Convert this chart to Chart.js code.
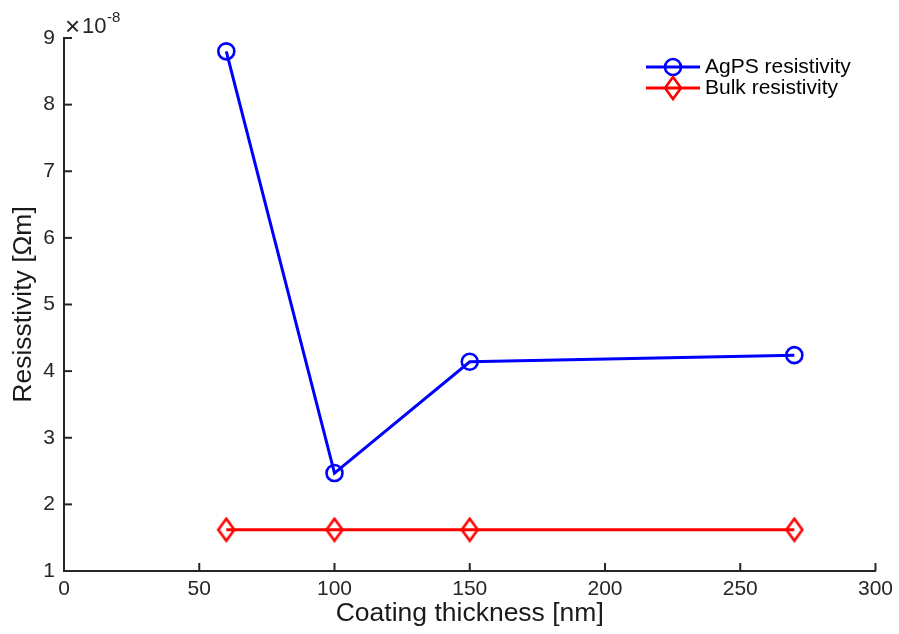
<!DOCTYPE html>
<html>
<head>
<meta charset="utf-8">
<script src="https://cdn.jsdelivr.net/npm/chart.js@4"></script>
<style>
  html, body { margin: 0; padding: 0; background: #fff; }
  #wrap { width: 899px; height: 634px; }
</style>
</head>
<body>
<div id="wrap"><canvas id="chart" width="899" height="634"></canvas></div>
<script>
// values (resistivity in units of 1e-8 Ohm m)
const thickness = [60, 100, 150, 270];
const agpsResistivity = [8.8, 2.47, 4.14, 4.24];
const bulkResistivity = [1.62, 1.62, 1.62, 1.62];
const xTicks = [0, 50, 100, 150, 200, 250, 300];
const yTicks = [1, 2, 3, 4, 5, 6, 7, 8, 9];

const axisColor = '#262626';
const fontFamily = '"Liberation Sans", Helvetica, Arial, sans-serif';

// tall MATLAB-like diamond marker, drawn once on a small canvas
function makeDiamond(color) {
    const c = document.createElement('canvas');
    c.width = 20;
    c.height = 26;
    const g = c.getContext('2d');
    g.strokeStyle = color;
    g.lineWidth = 2.6;
    g.beginPath();
    g.moveTo(10, 2);
    g.lineTo(18, 13);
    g.lineTo(10, 24);
    g.lineTo(2, 13);
    g.closePath();
    g.stroke();
    return c;
}
const diamondRed = makeDiamond('#ff0000');

// inward ticks, exponent label and legend
const matlabDecor = {
    id: 'matlabDecor',
    afterDraw(chart) {
        const ctx = chart.ctx;
        const xs = chart.scales.x, ys = chart.scales.y;
        const area = chart.chartArea;
        ctx.save();
        ctx.strokeStyle = axisColor;
        ctx.lineWidth = 2;
        xTicks.forEach(v => {
            const px = xs.getPixelForValue(v);
            ctx.beginPath();
            ctx.moveTo(px, area.bottom);
            ctx.lineTo(px, area.bottom - 8);
            ctx.stroke();
        });
        yTicks.forEach(v => {
            const py = ys.getPixelForValue(v);
            ctx.beginPath();
            ctx.moveTo(area.left, py);
            ctx.lineTo(area.left + 8, py);
            ctx.stroke();
        });

        // x10^-8 label
        ctx.fillStyle = axisColor;
        ctx.textBaseline = 'alphabetic';
        ctx.textAlign = 'left';
        ctx.font = '26px ' + fontFamily;
        ctx.fillText('\u00d7', area.left + 1, area.top - 3);
        ctx.font = '22px ' + fontFamily;
        ctx.fillText('10', area.left + 18, area.top - 5);
        ctx.font = '15px ' + fontFamily;
        ctx.fillText('-8', area.left + 43, area.top - 16);

        // legend
        const ly = [67, 88];
        const lx = 646;
        chart.data.datasets.forEach((ds, i) => {
            const y = ly[i];
            ctx.strokeStyle = ds.borderColor;
            ctx.lineWidth = 3;
            ctx.beginPath();
            ctx.moveTo(lx, y);
            ctx.lineTo(lx + 54, y);
            ctx.stroke();
            if (ds.pointStyle === 'circle') {
                ctx.lineWidth = 2.6;
                ctx.beginPath();
                ctx.arc(lx + 27, y, 8, 0, Math.PI * 2);
                ctx.stroke();
            } else {
                ctx.drawImage(ds.pointStyle, lx + 27 - 10, y - 13);
            }
            ctx.fillStyle = '#000';
            ctx.font = '21px ' + fontFamily;
            ctx.textBaseline = 'middle';
            ctx.fillText(ds.label, lx + 59, y);
        });
        ctx.restore();
    }
};

const ctx = document.getElementById('chart').getContext('2d');
new Chart(ctx, {
    type: 'line',
    data: {
        datasets: [{
            label: 'AgPS resistivity',
            data: thickness.map((x, i) => ({ x: x, y: agpsResistivity[i] })),
            borderColor: '#0000ff',
            backgroundColor: 'rgba(0,0,0,0)',
            borderWidth: 3,
            pointStyle: 'circle',
            pointRadius: 8,
            pointBorderWidth: 2.6,
            tension: 0
        }, {
            label: 'Bulk resistivity',
            data: thickness.map((x, i) => ({ x: x, y: bulkResistivity[i] })),
            borderColor: '#ff0000',
            backgroundColor: 'rgba(0,0,0,0)',
            borderWidth: 3,
            pointStyle: diamondRed,
            pointRadius: 10,
            tension: 0
        }]
    },
    options: {
        responsive: false,
        animation: false,
        layout: { padding: { top: 38, right: 19, left: 0, bottom: 0 } },
        plugins: {
            legend: { display: false },
            tooltip: { enabled: false }
        },
        scales: {
            x: {
                type: 'linear',
                min: 0,
                max: 300,
                afterBuildTicks: s => { s.ticks = xTicks.map(v => ({ value: v })); },
                afterFit: s => { s.height = 63; },
                grid: { display: false, drawTicks: false },
                border: { display: true, color: axisColor, width: 2 },
                ticks: {
                    color: axisColor,
                    padding: 6,
                    font: { family: fontFamily, size: 21 }
                },
                title: {
                    display: true,
                    text: 'Coating thickness [nm]',
                    color: '#1a1a1a',
                    padding: { top: 0, bottom: 4 },
                    font: { family: fontFamily, size: 26.5 }
                }
            },
            y: {
                type: 'linear',
                min: 1,
                max: 9,
                afterBuildTicks: s => { s.ticks = yTicks.map(v => ({ value: v })); },
                afterFit: s => { s.width = 64; },
                grid: { display: false, drawTicks: false },
                border: { display: true, color: axisColor, width: 2 },
                ticks: {
                    color: axisColor,
                    padding: 9,
                    font: { family: fontFamily, size: 21 }
                },
                title: {
                    display: true,
                    text: 'Resisstivity [\u03a9m]',
                    color: '#1a1a1a',
                    padding: { top: 8, bottom: 0 },
                    font: { family: fontFamily, size: 26.5 }
                }
            }
        }
    },
    plugins: [matlabDecor]
});
</script>
</body>
</html>
